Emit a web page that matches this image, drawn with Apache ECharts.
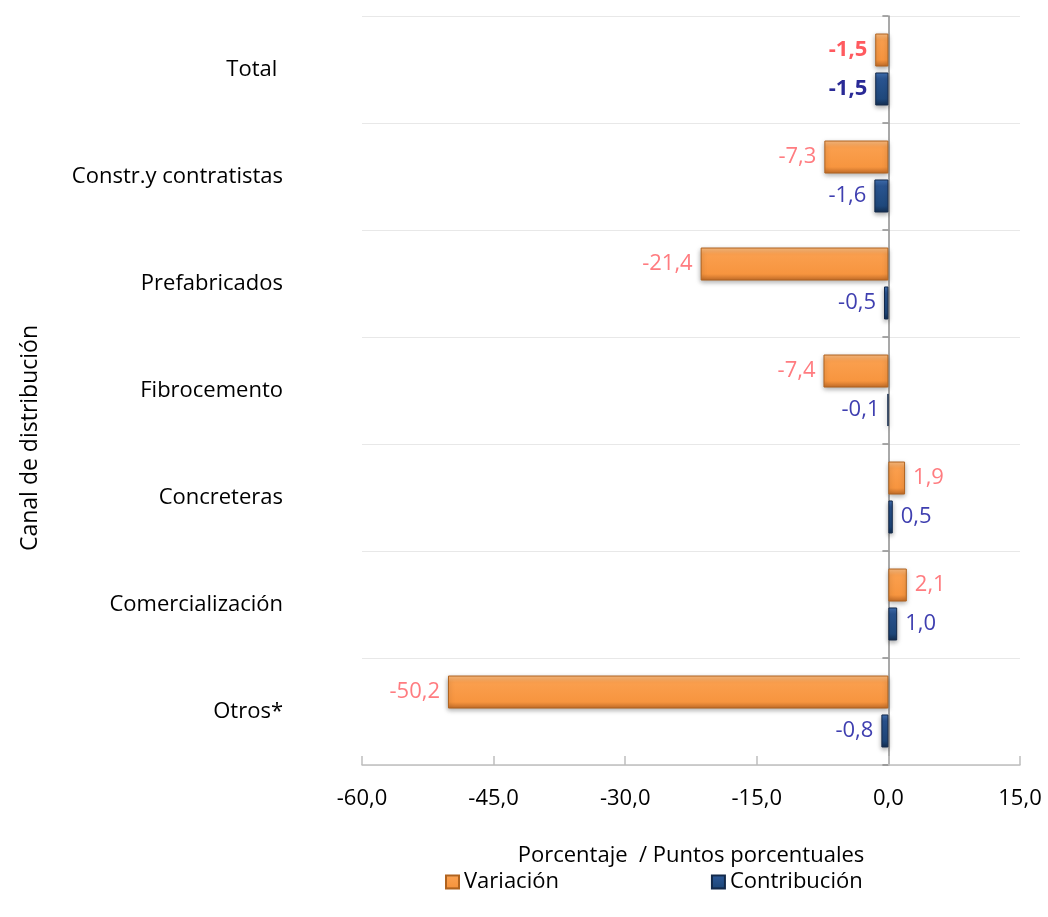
<!DOCTYPE html>
<html>
<head>
<meta charset="utf-8">
<script src="https://cdn.jsdelivr.net/npm/echarts@6/dist/echarts.min.js"></script>
<style>
  html, body { margin: 0; padding: 0; background: #fff; }
  #main { width: 1048px; height: 917px; }
</style>
</head>
<body>
<div id="main"></div>
<script>
// datos
var categorias = ["Total ", "Constr.y contratistas", "Prefabricados", "Fibrocemento", "Concreteras", "Comercialización", "Otros*"];
var variacion = [-1.5, -7.3, -21.4, -7.4, 1.9, 2.1, -50.2];
var contribucion = [-1.5, -1.6, -0.5, -0.1, 0.5, 1.0, -0.8];
var ticksX = [-60, -45, -30, -15, 0, 15];

var FONT = "Open Sans";
var FS = 22;

function fmt(v) {
  return v.toFixed(1).replace(".", ",");
}

// cada barra con su etiqueta a la izquierda o derecha segun el signo
function armar(valores, color, colorTotal) {
  return valores.map(function (v, i) {
    return {
      value: v,
      label: {
        position: v < 0 ? "left" : "right",
        color: i === 0 ? colorTotal : color,
        fontWeight: i === 0 ? "bold" : "normal",
      },
    };
  });
}

var mychart = echarts.init(document.getElementById("main"));
var option = {
  animation: false,
  textStyle: { fontFamily: FONT },
  grid: {
    left: 362,
    right: 28,
    top: 16,
    bottom: 152,
    containLabel: false,
  },
  legend: {
    left: 440,
    top: 866,
    icon: "rect",
    itemWidth: 13,
    itemHeight: 13,
    itemGap: 152,
    itemTextGap: 4,
    textStyle: { color: "#000", fontSize: FS, fontFamily: FONT },
    data: ["Variación", "Contribución"],
  },
  graphic: [
    {
      type: "text",
      x: 30,
      y: 438,
      rotation: Math.PI / 2,
      style: {
        text: "Canal de distribución",
        fill: "#000",
        font: "23px '" + FONT + "'",
        textAlign: "center",
        textVerticalAlign: "middle",
      },
    },
  ],
  xAxis: {
    type: "value",
    min: ticksX[0],
    max: ticksX[ticksX.length - 1],
    interval: 15,
    name: "Porcentaje  / Puntos porcentuales",
    nameLocation: "middle",
    nameGap: 80,
    nameTextStyle: { color: "#000", fontSize: FS, fontFamily: FONT },
    axisLine: { show: true, onZero: false, lineStyle: { color: "#BFBFBF", width: 1.5 } },
    axisTick: { show: true, inside: true, length: 9, lineStyle: { color: "#BFBFBF", width: 1.5 } },
    axisLabel: {
      color: "#000",
      fontSize: FS,
      margin: 23,
      formatter: function (v) { return fmt(v); },
    },
    splitLine: { show: false },
  },
  yAxis: [
    {
      type: "category",
      data: categorias,
      inverse: true,
      axisLine: { show: false, onZero: false },
      axisTick: { show: false },
      axisLabel: { color: "#000", fontSize: FS, margin: 79 },
      splitLine: {
        show: true,
        lineStyle: { color: "#E8E8E8", width: 1 },
      },
    },
    {
      // solo para la linea del cero con sus marcas
      type: "category",
      data: categorias,
      inverse: true,
      position: "left",
      axisLine: { show: true, onZero: true, lineStyle: { color: "#8C8C8C", width: 1.5 } },
      axisTick: { show: true, length: 6, lineStyle: { color: "#8C8C8C", width: 1.5 } },
      axisLabel: { show: false },
      splitLine: { show: false },
    },
  ],
  series: [
    {
      name: "Variación",
      type: "bar",
      yAxisIndex: 0,
      barWidth: 33,
      barGap: "18%",
      z: 3,
      itemStyle: {
        color: new echarts.graphic.LinearGradient(0, 0, 0, 1, [
          { offset: 0, color: "#FDBE82" },
          { offset: 0.2, color: "#FA9F4E" },
          { offset: 0.8, color: "#F7953F" },
          { offset: 1, color: "#C26C28" },
        ]),
        borderColor: "#B0631F",
        borderWidth: 1,
        shadowBlur: 5,
        shadowOffsetY: 2,
        shadowColor: "rgba(0,0,0,0.35)",
      },
      label: {
        show: true,
        fontSize: FS,
        distance: 8,
        fontFamily: FONT,
        formatter: function (p) { return fmt(p.value); },
      },
      data: armar(variacion, "#FF7C80", "#FF5A5F"),
    },
    {
      name: "Contribución",
      type: "bar",
      yAxisIndex: 0,
      barWidth: 33,
      z: 3,
      itemStyle: {
        color: new echarts.graphic.LinearGradient(0, 0, 0, 1, [
          { offset: 0, color: "#4474B8" },
          { offset: 0.2, color: "#2A5592" },
          { offset: 0.8, color: "#1F497D" },
          { offset: 1, color: "#142F52" },
        ]),
        borderColor: "#13294A",
        borderWidth: 1,
        shadowBlur: 5,
        shadowOffsetY: 2,
        shadowColor: "rgba(0,0,0,0.35)",
      },
      label: {
        show: true,
        fontSize: FS,
        distance: 8,
        fontFamily: FONT,
        formatter: function (p) { return fmt(p.value); },
      },
      data: armar(contribucion, "#3F3FB0", "#2A2A96"),
    },
  ],
};
mychart.setOption(option);
mychart.resize();
</script>
</body>
</html>
